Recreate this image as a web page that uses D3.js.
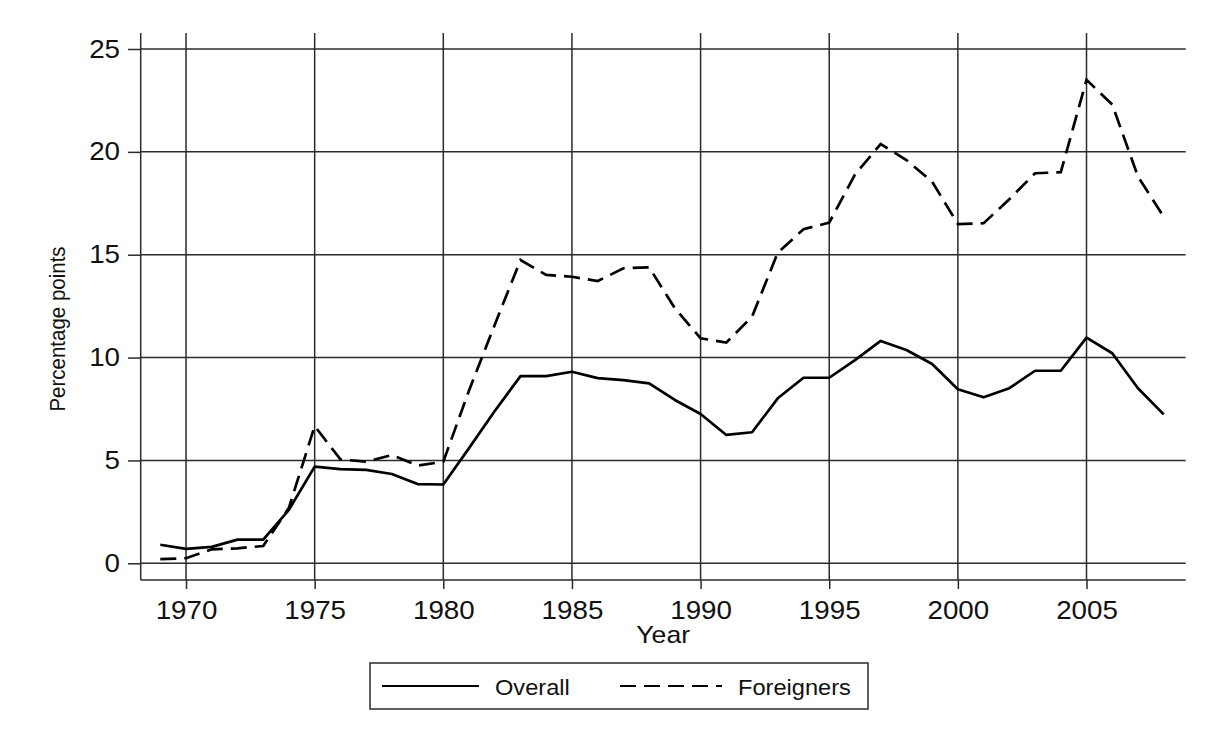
<!DOCTYPE html>
<html>
<head>
<meta charset="utf-8">
<script src="https://cdn.jsdelivr.net/npm/d3@7/dist/d3.min.js"></script>
<style>
  html, body { margin: 0; padding: 0; background: #ffffff; }
  svg { display: block; }
  text { font-family: "Liberation Sans", Arial, Helvetica, sans-serif; fill: #111; }
</style>
</head>
<body>
<div id="chart"></div>
<script>
// ---- data ----
const years = [1969,1970,1971,1972,1973,1974,1975,1976,1977,1978,1979,1980,1981,1982,1983,1984,1985,1986,1987,1988,1989,1990,1991,1992,1993,1994,1995,1996,1997,1998,1999,2000,2001,2002,2003,2004,2005,2006,2007,2008];
const overall = [0.9,0.7,0.8,1.15,1.15,2.6,4.7,4.58,4.54,4.34,3.85,3.83,5.6,7.4,9.1,9.1,9.31,9.0,8.9,8.75,7.94,7.26,6.24,6.37,8.02,9.02,9.02,9.88,10.81,10.37,9.69,8.46,8.07,8.51,9.36,9.36,10.97,10.21,8.51,7.24];
const foreigners = [0.2,0.25,0.68,0.73,0.84,2.7,6.67,5.05,4.94,5.26,4.75,4.94,8.4,11.6,14.74,14.02,13.93,13.72,14.34,14.39,12.4,10.94,10.73,11.99,15.1,16.24,16.56,18.9,20.38,19.6,18.55,16.49,16.53,17.7,18.96,19.01,23.5,22.3,18.8,16.85];
const xTickValues = [1970,1975,1980,1985,1990,1995,2000,2005];
const yTickValues = [0,5,10,15,20,25];
const seriesNames = ["Overall", "Foreigners"];
const xTitle = "Year";
const yTitle = "Percentage points";

// ---- layout ----
const W = 1218, H = 740;
const plotLeft = 140.7, plotRight = 1185.7, plotTop = 33, plotBottom = 580;
const ink = "#111", gridInk = "#2b2b2b";
const SX = 1.11; // horizontal stretch of the glyphs in the reference

const svg = d3.select("#chart").append("svg").attr("width", W).attr("height", H);
svg.append("rect").attr("width", W).attr("height", H).attr("fill", "#fff");

const x = d3.scaleLinear().domain([1969, 2008]).range([160.3, 1163.7]);
const y = d3.scaleLinear().domain([0, 25]).range([563.3, 49]);

// grid lines
svg.append("g").selectAll("line").data(yTickValues).join("line")
  .attr("x1", plotLeft).attr("x2", plotRight)
  .attr("y1", d => y(d)).attr("y2", d => y(d))
  .attr("stroke", gridInk).attr("stroke-width", 1.5);
svg.append("g").selectAll("line").data(xTickValues).join("line")
  .attr("x1", d => x(d)).attr("x2", d => x(d))
  .attr("y1", plotTop).attr("y2", plotBottom)
  .attr("stroke", gridInk).attr("stroke-width", 1.5);

// axes
const xAxis = svg.append("g").attr("transform", `translate(0,${plotBottom})`)
  .call(d3.axisBottom(x).tickValues(xTickValues).tickFormat(d3.format("d")).tickSize(9).tickPadding(12));
const yAxis = svg.append("g").attr("transform", `translate(${plotLeft},0)`)
  .call(d3.axisLeft(y).tickValues(yTickValues).tickSize(12.7).tickPadding(8));
[xAxis, yAxis].forEach(g => {
  g.select(".domain").remove();
  g.selectAll(".tick line").attr("stroke", gridInk).attr("stroke-width", 1.5);
  g.selectAll(".tick text").attr("fill", ink).style("font-size", "25px")
    .attr("font-family", '"Liberation Sans", Arial, sans-serif');
});
xAxis.selectAll(".tick text").attr("transform", `scale(${SX},1)`);
yAxis.selectAll(".tick text").attr("x", -(12.7 + 8) / SX).attr("transform", `scale(${SX},1)`);

svg.append("line").attr("x1", plotLeft).attr("x2", plotLeft).attr("y1", plotTop).attr("y2", plotBottom)
  .attr("stroke", gridInk).attr("stroke-width", 1.5);
svg.append("line").attr("x1", plotLeft).attr("x2", plotRight).attr("y1", plotBottom).attr("y2", plotBottom)
  .attr("stroke", gridInk).attr("stroke-width", 1.5);

// titles
svg.append("text").attr("transform", `translate(${(plotLeft + plotRight) / 2},643) scale(${SX},1)`)
  .attr("text-anchor", "middle").style("font-size", "24px").text(xTitle);
svg.append("text").attr("transform", `translate(65,329) scale(${SX},1) rotate(-90)`)
  .attr("text-anchor", "middle").style("font-size", "20.5px").text(yTitle);

// lines
const line = d3.line().x((d, i) => x(years[i])).y(d => y(d));
svg.append("path").datum(overall).attr("d", line)
  .attr("fill", "none").attr("stroke", "#000").attr("stroke-width", 2.7).attr("stroke-linejoin", "round");
svg.append("path").datum(foreigners).attr("d", line)
  .attr("fill", "none").attr("stroke", "#000").attr("stroke-width", 2.7).attr("stroke-dasharray", "16,8");

// legend
const lg = svg.append("g");
lg.append("rect").attr("x", 370).attr("y", 663).attr("width", 498).attr("height", 46)
  .attr("fill", "#fff").attr("stroke", gridInk).attr("stroke-width", 1.5);
const legendItems = [
  { name: seriesNames[0], x1: 382, x2: 479, tx: 495, dash: null },
  { name: seriesNames[1], x1: 620, x2: 722, tx: 738, dash: "16,8" }
];
legendItems.forEach(it => {
  lg.append("line").attr("x1", it.x1).attr("x2", it.x2).attr("y1", 686).attr("y2", 686)
    .attr("stroke", "#000").attr("stroke-width", 2.2).attr("stroke-dasharray", it.dash);
  lg.append("text").attr("transform", `translate(${it.tx},694.5) scale(1.05,1)`)
    .style("font-size", "22.5px").text(it.name);
});
</script>
</body>
</html>
